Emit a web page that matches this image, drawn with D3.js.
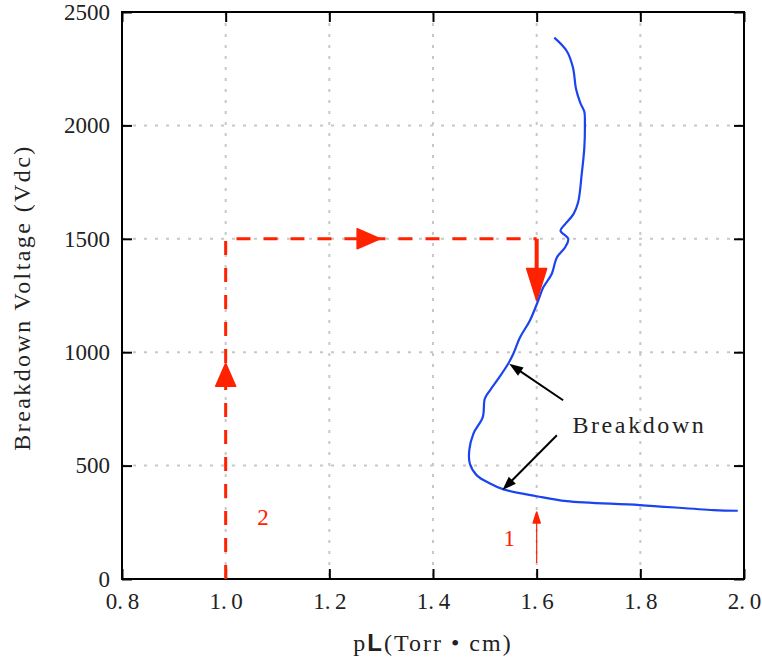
<!DOCTYPE html>
<html>
<head>
<meta charset="utf-8">
<script src="https://cdn.jsdelivr.net/npm/d3@7"></script>
<style>
  body { margin: 0; background: #fff; }
  svg text { font-family: "Liberation Serif", "DejaVu Serif", serif; }
</style>
</head>
<body>
<script>
// breakdown curve (pL in Torr*cm, voltage in Vdc)
var curveX = [1.634, 1.658, 1.670, 1.676, 1.684, 1.692, 1.693, 1.692, 1.687, 1.680, 1.671, 1.655, 1.646, 1.661, 1.655,
              1.639, 1.629, 1.613, 1.603, 1.587, 1.568, 1.555, 1.545, 1.526, 1.510, 1.500, 1.496, 1.478, 1.470,
              1.471, 1.484, 1.510, 1.536, 1.600, 1.658, 1.799, 1.941, 1.988];
var curveY = [2387, 2328, 2255, 2160, 2100, 2060, 2010, 1903, 1787, 1661, 1609, 1565, 1536, 1499, 1463,
              1418, 1345, 1287, 1228, 1140, 1066, 993, 949, 883, 832, 795, 714, 641, 568,
              509, 458, 421, 395, 365, 343, 326, 304, 301];

// red path: up at pL=1.0, across at 1500 V, down at pL=1.6
var pathX = [1.0, 1.0, 1.6];
var pathY = [0, 1500, 1500];
var dropX = [1.6, 1.6];
var dropY = [1500, 1300];

var xTicks = [0.8, 1.0, 1.2, 1.4, 1.6, 1.8, 2.0];
var yTicks = [0, 500, 1000, 1500, 2000, 2500];

var width = 762, height = 659;
var margin = {top: 12, right: 18, bottom: 80, left: 122};
var w = width - margin.left - margin.right;
var h = height - margin.top - margin.bottom;

var red = "#ff2200", blue = "#1a44f0";

var svg = d3.select("body").append("svg")
    .attr("width", width)
    .attr("height", height);

var g = svg.append("g")
    .attr("transform", "translate(" + margin.left + "," + margin.top + ")");

var x = d3.scaleLinear().domain([0.8, 2.0]).range([0, w]);
var y = d3.scaleLinear().domain([0, 2500]).range([h, 0]);

// grid
g.selectAll(".gx").data(xTicks.slice(1, -1)).enter().append("line")
    .attr("x1", function(d) { return x(d); }).attr("x2", function(d) { return x(d); })
    .attr("y1", 0).attr("y2", h)
    .attr("stroke", "#c8c8c8").attr("stroke-width", 2).attr("stroke-dasharray", "3,8");
g.selectAll(".gy").data(yTicks.slice(1, -1)).enter().append("line")
    .attr("y1", function(d) { return y(d); }).attr("y2", function(d) { return y(d); })
    .attr("x1", 0).attr("x2", w)
    .attr("stroke", "#c8c8c8").attr("stroke-width", 2).attr("stroke-dasharray", "3,8");

// axes, ticks pointing in
var fmt = function(d) { return d3.format(".1f")(d).replace(".", ".\u2009"); };
function styleAxis(sel) {
  sel.select(".domain").remove();
  sel.selectAll(".tick line").attr("stroke", "#000").attr("stroke-width", 2);
  sel.selectAll("text").attr("font-size", 23).attr("fill", "#222")
     .style("font-family", "'Liberation Serif', serif");
}
g.append("g").attr("transform", "translate(0," + h + ")")
  .call(d3.axisBottom(x).tickValues(xTicks).tickFormat(fmt).tickSizeInner(-10).tickSizeOuter(0).tickPadding(14))
  .call(styleAxis);
g.append("g")
  .call(d3.axisLeft(y).tickValues(yTicks).tickFormat(d3.format("d")).tickSizeInner(-10).tickSizeOuter(0).tickPadding(12))
  .call(styleAxis);
g.append("g")
  .call(d3.axisTop(x).tickValues(xTicks).tickFormat("").tickSizeInner(-10).tickSizeOuter(0))
  .call(styleAxis);
g.append("g").attr("transform", "translate(" + w + ",0)")
  .call(d3.axisRight(y).tickValues(yTicks).tickFormat("").tickSizeInner(-10).tickSizeOuter(0))
  .call(styleAxis);

g.append("rect").attr("width", w).attr("height", h)
    .attr("fill", "none").attr("stroke", "#000").attr("stroke-width", 2);

// red dashed path
var line = d3.line().x(function(d) { return x(d[0]); }).y(function(d) { return y(d[1]); });
g.append("path")
    .datum(d3.zip(pathX, pathY))
    .attr("d", line)
    .attr("fill", "none").attr("stroke", red).attr("stroke-width", 3)
    .attr("stroke-dasharray", "14,13");
g.append("path")
    .datum(d3.zip(dropX, dropY))
    .attr("d", line)
    .attr("fill", "none").attr("stroke", red).attr("stroke-width", 4);

// filled arrowheads along the red path: tip then direction
function head(tx, ty, dx, dy, len, half, color) {
  var px = x(tx), py = y(ty);
  var bx = px - dx * len, by = py - dy * len;
  var nx = -dy * half, ny = dx * half;
  g.append("path")
    .attr("d", "M" + px + "," + py + "L" + (bx + nx) + "," + (by + ny) + "L" + (bx - nx) + "," + (by - ny) + "Z")
    .attr("fill", color).attr("stroke", color).attr("stroke-width", 1.5).attr("stroke-linejoin", "round");
}
head(1.0, 951, 0, -1, 23, 10, red);
head(1.298, 1500, 1, 0, 23, 10, red);
head(1.6, 1228, 0, 1, 32, 10, red);

// thin arrow near label 1
g.append("line")
    .attr("x1", x(1.6)).attr("x2", x(1.6))
    .attr("y1", y(70)).attr("y2", y(285))
    .attr("stroke", red).attr("stroke-width", 1.2);
head(1.6, 295, 0, -1, 11, 3.5, red);

// blue curve
g.append("path")
    .datum(d3.zip(curveX, curveY))
    .attr("d", d3.line().curve(d3.curveCatmullRom)
        .x(function(d) { return x(d[0]); }).y(function(d) { return y(d[1]); }))
    .attr("fill", "none").attr("stroke", blue).attr("stroke-width", 2.2);

// breakdown annotations
var notes = [
  {x1: 1.651, y1: 788, x2: 1.547, y2: 949},
  {x1: 1.639, y1: 634, x2: 1.534, y2: 392}
];
notes.forEach(function(n) {
  var ax = x(n.x2) - x(n.x1), ay = y(n.y2) - y(n.y1);
  var len = Math.sqrt(ax * ax + ay * ay);
  var ux = ax / len, uy = ay / len;
  g.append("line")
    .attr("x1", x(n.x1)).attr("y1", y(n.y1))
    .attr("x2", x(n.x2) - ux * 10).attr("y2", y(n.y2) - uy * 10)
    .attr("stroke", "#000").attr("stroke-width", 2);
  var px = x(n.x2), py = y(n.y2), bx = px - ux * 14, by = py - uy * 14;
  g.append("path")
    .attr("d", "M" + px + "," + py + "L" + (bx - uy * 5) + "," + (by + ux * 5) + "L" + (bx + uy * 5) + "," + (by - ux * 5) + "Z")
    .attr("fill", "#000");
});
g.append("text").attr("x", x(1.669)).attr("y", y(643))
    .attr("font-size", 24).attr("fill", "#222")
    .style("letter-spacing", "2.6px").text("Breakdown");

g.append("text").attr("x", x(1.072)).attr("y", y(238)).attr("text-anchor", "middle")
    .attr("font-size", 23).attr("fill", red).text("2");
g.append("text").attr("x", x(1.547)).attr("y", y(145)).attr("text-anchor", "middle")
    .attr("font-size", 23).attr("fill", red).text("1");

// axis titles
var xl = svg.append("text")
    .attr("x", 433).attr("y", 651)
    .attr("text-anchor", "middle").attr("font-size", 24).attr("fill", "#222")
    .style("letter-spacing", "2px");
xl.append("tspan").text("p");
xl.append("tspan").style("font-family", "'Liberation Sans', sans-serif").attr("font-weight", "bold").text("L");
xl.append("tspan").text("(Torr \u2022 cm)");

svg.append("text")
    .attr("transform", "translate(30," + (margin.top + h / 2 + 2) + ") rotate(-90)")
    .attr("text-anchor", "middle").attr("font-size", 24).attr("fill", "#222")
    .style("letter-spacing", "2.4px")
    .text("Breakdown Voltage (Vdc)");
</script>
</body>
</html>
